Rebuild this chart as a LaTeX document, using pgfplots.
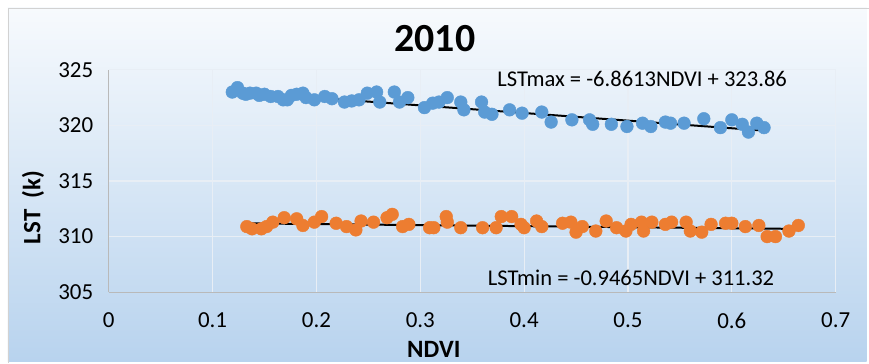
\documentclass[border=0pt]{standalone}
\usepackage{pgfplots}
\pgfplotsset{compat=1.18}
\usepackage{fontspec}
\setmainfont{Carlito}
\definecolor{bluept}{RGB}{91,155,213}
\definecolor{orangept}{RGB}{237,125,49}
\definecolor{bgtop}{RGB}{247,250,253}
\definecolor{bgbot}{RGB}{184,211,238}
\definecolor{gridc}{RGB}{232,238,245}
\pgfplotstableread{
x y
0.119 323.0
0.124 323.4
0.129 322.9
0.132 322.8
0.136 322.9
0.142 322.9
0.145 322.7
0.150 322.8
0.156 322.6
0.163 322.6
0.168 322.3
0.172 322.3
0.176 322.7
0.181 322.8
0.187 322.9
0.190 322.5
0.198 322.3
0.208 322.6
0.215 322.4
0.227 322.1
0.234 322.2
0.241 322.3
0.249 322.9
0.258 323.0
0.261 322.1
0.275 323.0
0.280 322.1
0.288 322.5
0.304 321.6
0.312 322.0
0.318 322.1
0.326 322.5
0.339 322.1
0.342 321.4
0.359 322.1
0.362 321.2
0.369 321.0
0.386 321.4
0.398 321.1
0.417 321.2
0.426 320.3
0.446 320.5
0.463 320.5
0.466 320.1
0.484 320.1
0.499 319.9
0.514 320.2
0.522 319.9
0.536 320.3
0.541 320.2
0.554 320.2
0.573 320.6
0.589 319.8
0.600 320.5
0.610 320.1
0.616 319.4
0.624 320.2
0.631 319.8
}\maxdata
\pgfplotstableread{
x y
0.133 310.9
0.138 310.7
0.147 310.7
0.152 310.9
0.158 311.3
0.169 311.7
0.181 311.6
0.187 311.0
0.198 311.3
0.205 311.8
0.219 311.2
0.229 310.9
0.238 310.6
0.243 311.4
0.255 311.3
0.268 311.7
0.273 312.0
0.283 310.9
0.289 311.1
0.309 310.8
0.313 310.8
0.325 311.8
0.326 311.3
0.339 310.8
0.360 310.8
0.373 310.8
0.378 311.8
0.388 311.8
0.397 311.1
0.400 310.8
0.412 311.4
0.417 310.9
0.437 311.2
0.445 311.3
0.450 310.4
0.456 310.9
0.469 310.5
0.479 311.4
0.489 310.8
0.498 310.5
0.503 311.1
0.513 311.3
0.515 310.5
0.523 311.3
0.536 311.1
0.542 311.3
0.556 311.3
0.560 310.5
0.571 310.4
0.580 311.1
0.594 311.2
0.600 311.2
0.613 310.9
0.626 311.0
0.634 310.0
0.642 310.0
0.655 310.5
0.664 311.0
}\mindata
\begin{document}
\begin{tikzpicture}[x=1pt,y=1pt]
\fill[white] (0,0) rectangle (869,362);
\shade[top color=bgtop, bottom color=bgbot] (8,0) rectangle (869,354);
\draw[gray!35, line width=0.8pt] (8,-2) -- (8,354) -- (871,354);
\begin{axis}[
  at={(109pt,69pt)}, anchor=south west,
  scale only axis, width=729pt, height=223pt,
  xmin=0, xmax=0.7, ymin=305, ymax=325,
  xtick={0,0.1,0.2,0.3,0.4,0.5,0.6,0.7},
  xticklabels={0,0.1,0.2,0.3,0.4,0.5,0.6,0.7},
  ytick={305,310,315,320,325},
  /pgf/number format/assume math mode=true,
  ticklabel style={font=\fontsize{23}{27}\selectfont, color=black},
  xticklabel style={yshift=-17pt},
  yticklabel style={xshift=-12pt},
  major tick length=0pt,
  axis lines*=left,
  axis line style={-, draw=gray!55, line width=1pt},
  grid=major,
  grid style={draw=gridc, line width=1.2pt},
  clip=false,
]
\addplot[only marks, mark=*, mark size=6.4pt, mark options={draw=bluept, fill=bluept}] table[x=x,y=y] {\maxdata};
\addplot[only marks, mark=*, mark size=6.4pt, mark options={draw=orangept, fill=orangept}] table[x=x,y=y] {\mindata};
\addplot[black, line width=2pt] coordinates {(0.119,323.04) (0.631,319.53)};
\addplot[black, line width=2pt] coordinates {(0.133,311.19) (0.664,310.69)};
\node[anchor=west, font=\fontsize{22.6}{26}\selectfont, inner sep=0pt] at (axis cs:0.374,324.19) {LSTmax = -6.8613NDVI + 323.86};
\node[anchor=west, font=\fontsize{22.6}{26}\selectfont, inner sep=0pt] at (axis cs:0.365,306.26) {LSTmin = -0.9465NDVI + 311.32};
\end{axis}
\node[font=\bfseries\fontsize{40}{44}\selectfont] at (436,323) {2010};
\node[font=\bfseries\fontsize{25}{29}\selectfont, rotate=90] at (33,154) {LST\ \ (k)};
\node[font=\bfseries\fontsize{25}{29}\selectfont] at (435,12) {NDVI};
\end{tikzpicture}
\end{document}
